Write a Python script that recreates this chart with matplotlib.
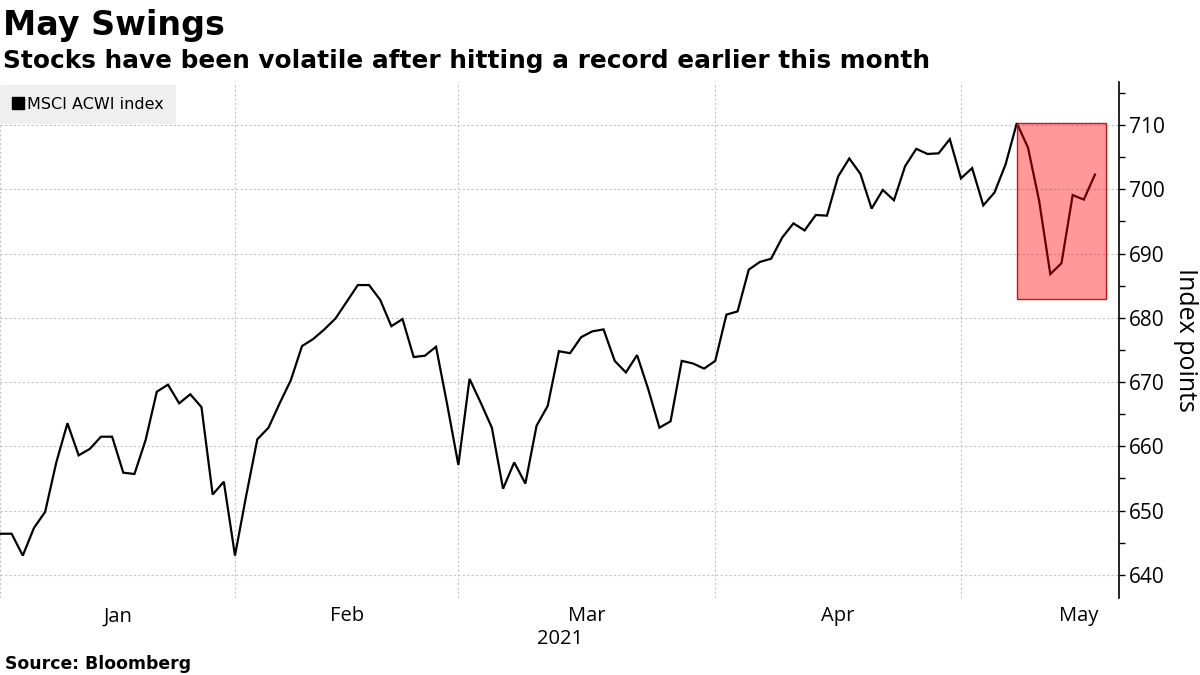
import numpy as np
import pandas as pd
import matplotlib
matplotlib.use("Agg")
import matplotlib.pyplot as plt
from matplotlib.patches import Rectangle
from matplotlib.lines import Line2D
from matplotlib.ticker import MultipleLocator, FixedLocator, NullFormatter

# ---------------- data ----------------
start_date = "2021-01-01"
series_name = "MSCI ACWI index"
values = [
    646.4, 646.4, 643.0, 647.3, 649.8, 657.5, 663.6, 658.6, 659.6, 661.5,
    661.5, 655.9, 655.7, 661.0, 668.5, 669.6, 666.7, 668.1, 666.1, 652.5,
    654.5, 643.0, 652.3, 661.1, 662.9, 666.7, 670.3, 675.6, 676.7, 678.2,
    679.9, 682.5, 685.1, 685.1, 682.8, 678.7, 679.8, 673.9, 674.1, 675.5,
    666.5, 657.1, 670.5, 666.8, 662.9, 653.4, 657.5, 654.2, 663.2, 666.3,
    674.8, 674.5, 677.0, 677.9, 678.2, 673.3, 671.5, 674.2, 668.9, 662.9,
    663.9, 673.3, 672.9, 672.1, 673.3, 680.5, 681.0, 687.5, 688.7, 689.2,
    692.5, 694.7, 693.6, 696.0, 695.9, 702.0, 704.8, 702.4, 697.0, 699.9,
    698.3, 703.6, 706.3, 705.5, 705.6, 707.8, 701.7, 703.3, 697.5, 699.5,
    703.9, 710.3, 706.5, 698.2, 686.8, 688.5, 699.1, 698.4, 702.3,
]
month_labels = ["Jan", "Feb", "Mar", "Apr", "May"]
year_label = "2021"
y_ticks = [640, 650, 660, 670, 680, 690, 700, 710]
highlight_start = "2021-05-10"   # first day inside the red box
highlight_days = 8               # width of box in trading days
highlight_low = 683.0
highlight_high = 710.3

title = "May Swings"
subtitle = "Stocks have been volatile after hitting a record earlier this month"
y_label = "Index points"
source = "Source: Bloomberg"

# ---------------- derived ----------------
dates = pd.bdate_range(start_date, periods=len(values))
x = np.arange(len(values))
full_days = pd.bdate_range(start_date, "2021-05-31")
month_idx = full_days.month
bounds = [int(np.argmax(month_idx == m)) for m in range(1, 6)]
month_centers = [(np.where(month_idx == m)[0].min() + np.where(month_idx == m)[0].max() + 1) / 2
                 for m in range(1, 6)]
hl_x0 = int(np.where(dates == pd.Timestamp(highlight_start))[0][0])

# ---------------- figure ----------------
W, H = 1200, 675
fig = plt.figure(figsize=(W / 100, H / 100), dpi=100)
left, right, top, bottom = 0, 1119, 82, 598
ax = fig.add_axes([left / W, 1 - bottom / H, (right - left) / W, (bottom - top) / H])

ax.plot(x, values, color="black", lw=1.6, solid_joinstyle="miter", zorder=3)

ax.add_patch(Rectangle((hl_x0, highlight_low), highlight_days, highlight_high - highlight_low,
                       facecolor=(1, 0, 0, 0.4), edgecolor="#c81414", lw=1.0, zorder=4))

ax.set_xlim(-0.04, 100.15)
ax.set_ylim(636.4, 716.7)

for s in ["left", "top", "bottom"]:
    ax.spines[s].set_visible(False)
ax.spines["right"].set_linewidth(1.2)

ax.yaxis.tick_right()
ax.yaxis.set_label_position("right")
ax.set_yticks(y_ticks)
ax.yaxis.set_minor_locator(MultipleLocator(5))
ax.tick_params(axis="y", which="major", direction="out", length=4, width=1.0, pad=3,
               labelsize=15, labelfontfamily="Open Sans")
ax.tick_params(axis="y", which="minor", direction="out", length=4, width=1.0)
ax.set_ylabel(y_label, fontsize=18, family="Open Sans", rotation=270, labelpad=24)

ax.xaxis.set_major_locator(FixedLocator(bounds))
ax.xaxis.set_major_formatter(NullFormatter())
ax.tick_params(axis="x", which="major", length=0)
ax.xaxis.set_minor_locator(FixedLocator(month_centers))
ax.xaxis.set_minor_formatter(plt.FixedFormatter(month_labels))
ax.tick_params(axis="x", which="minor", length=0, pad=6, labelsize=14.5,
               labelfontfamily="Open Sans")

ax.grid(True, which="major", axis="both", color="#c4c4c4", lw=0.8, linestyle=(0, (2, 2)))
ax.set_axisbelow(True)

fig.text(560 / W, 1 - 639 / H, year_label, ha="center", va="center", fontsize=14.5,
         family="Open Sans")

handle = Line2D([], [], marker="s", color="black", linestyle="none", markersize=9)
leg = ax.legend([handle], [series_name], loc="upper left", bbox_to_anchor=(0, 0.995),
                frameon=True, fancybox=False, facecolor="#efefef", edgecolor="none",
                framealpha=1, handlelength=0.7, handletextpad=0.25, borderpad=0.75,
                borderaxespad=0, prop={"family": "DejaVu Sans", "size": 11.5})

fig.text(3 / W, 1 - 35 / H, title, ha="left", va="baseline", fontsize=24,
         fontweight="bold", family="DejaVu Sans")
fig.text(3 / W, 1 - 68 / H, subtitle, ha="left", va="baseline", fontsize=17.8,
         fontweight="bold", family="DejaVu Sans")
fig.text(5 / W, 1 - 669 / H, source, ha="left", va="baseline", fontsize=12.4,
         fontweight="bold", family="DejaVu Sans")

fig.savefig("out.png", dpi=100)
